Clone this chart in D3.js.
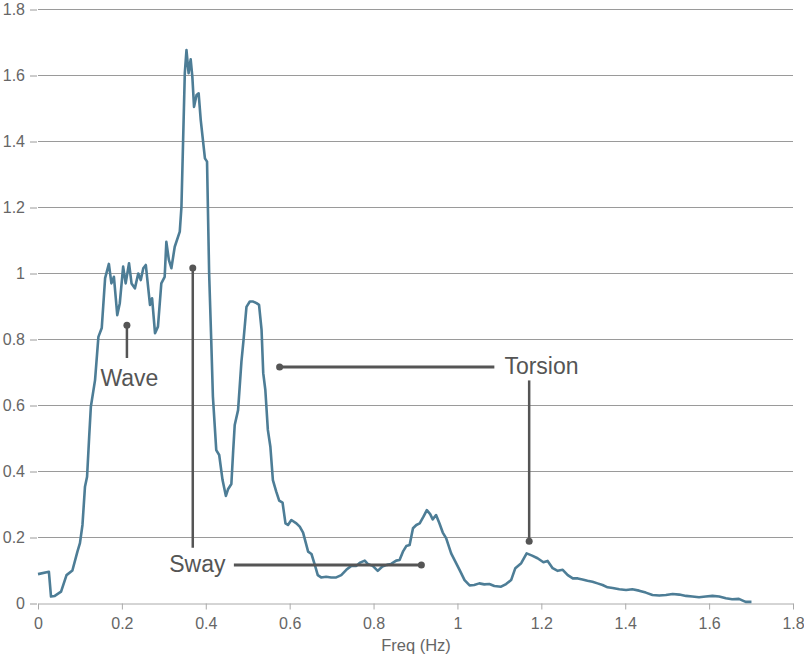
<!DOCTYPE html>
<html>
<head>
<meta charset="utf-8">
<script src="https://cdn.jsdelivr.net/npm/d3@7"></script>
<style>
  body { margin: 0; background: #fff; }
  svg { font-family: "Liberation Sans", Arial, sans-serif; }
  .tick text { fill: #666; font-size: 16px; }
  .x-axis path, .x-axis line { stroke: #aaa; }
</style>
</head>
<body>
<div id="chart"></div>
<script>
// spectrum
var freq = [0.000, 0.026, 0.031, 0.040, 0.055, 0.068, 0.082, 0.094, 0.100, 0.106,
  0.112, 0.117, 0.122, 0.126, 0.136, 0.144, 0.152, 0.160, 0.169, 0.175,
  0.181, 0.189, 0.195, 0.203, 0.209, 0.217, 0.223, 0.231, 0.239, 0.245,
  0.251, 0.257, 0.267, 0.272, 0.279, 0.286, 0.294, 0.302, 0.306, 0.312,
  0.318, 0.326, 0.338, 0.342, 0.346, 0.350, 0.354, 0.359, 0.364, 0.368,
  0.372, 0.378, 0.383, 0.388, 0.398, 0.403, 0.408, 0.413, 0.417, 0.425,
  0.432, 0.440, 0.448, 0.453, 0.461, 0.465, 0.469, 0.477, 0.485, 0.490,
  0.497, 0.505, 0.513, 0.521, 0.527, 0.533, 0.537, 0.542, 0.548, 0.554,
  0.560, 0.568, 0.575, 0.583, 0.590, 0.596, 0.604, 0.616, 0.624, 0.632,
  0.644, 0.652, 0.660, 0.667, 0.675, 0.687, 0.699, 0.711, 0.723, 0.735,
  0.747, 0.759, 0.768, 0.779, 0.786, 0.798, 0.810, 0.821, 0.832, 0.842,
  0.854, 0.862, 0.870, 0.878, 0.886, 0.894, 0.902, 0.910, 0.919, 0.927,
  0.935, 0.941, 0.949, 0.957, 0.965, 0.973, 0.985, 0.995, 1.005, 1.017,
  1.029, 1.040, 1.052, 1.064, 1.076, 1.088, 1.104, 1.116, 1.128, 1.138,
  1.152, 1.165, 1.178, 1.191, 1.205, 1.215, 1.227, 1.239, 1.251, 1.263,
  1.275, 1.287, 1.298, 1.310, 1.322, 1.334, 1.346, 1.358, 1.370, 1.386,
  1.402, 1.417, 1.433, 1.449, 1.465, 1.481, 1.497, 1.513, 1.529, 1.545,
  1.560, 1.576, 1.592, 1.608, 1.624, 1.640, 1.655, 1.671, 1.687, 1.701];

var amp = [0.089, 0.096, 0.021, 0.023, 0.036, 0.086, 0.100, 0.157, 0.183, 0.238,
  0.354, 0.384, 0.505, 0.596, 0.677, 0.808, 0.835, 0.986, 1.029, 0.970,
  0.990, 0.874, 0.910, 1.021, 0.970, 1.031, 0.970, 0.955, 1.000, 0.980,
  1.016, 1.026, 0.905, 0.925, 0.819, 0.839, 0.970, 0.990, 1.096, 1.041,
  1.016, 1.081, 1.127, 1.202, 1.405, 1.607, 1.677, 1.607, 1.649, 1.596,
  1.505, 1.541, 1.546, 1.465, 1.349, 1.339, 1.001, 0.798, 0.627, 0.465,
  0.450, 0.374, 0.326, 0.346, 0.362, 0.455, 0.541, 0.586, 0.733, 0.798,
  0.899, 0.915, 0.915, 0.910, 0.905, 0.829, 0.698, 0.647, 0.526, 0.475,
  0.374, 0.339, 0.312, 0.306, 0.243, 0.238, 0.253, 0.243, 0.233, 0.215,
  0.157, 0.150, 0.117, 0.086, 0.079, 0.081, 0.079, 0.079, 0.086, 0.102,
  0.114, 0.114, 0.124, 0.130, 0.120, 0.114, 0.099, 0.112, 0.117, 0.120,
  0.130, 0.132, 0.157, 0.174, 0.177, 0.228, 0.238, 0.243, 0.263, 0.283,
  0.271, 0.255, 0.268, 0.243, 0.215, 0.198, 0.152, 0.127, 0.102, 0.071,
  0.055, 0.056, 0.061, 0.058, 0.059, 0.053, 0.051, 0.059, 0.071, 0.107,
  0.122, 0.152, 0.145, 0.137, 0.125, 0.129, 0.107, 0.099, 0.102, 0.086,
  0.076, 0.076, 0.073, 0.069, 0.066, 0.061, 0.056, 0.049, 0.047, 0.043,
  0.041, 0.043, 0.039, 0.033, 0.026, 0.024, 0.026, 0.029, 0.027, 0.023,
  0.021, 0.019, 0.021, 0.023, 0.021, 0.016, 0.013, 0.014, 0.005, 0.005];

var x_ticks = [0, 0.2, 0.4, 0.6, 0.8, 1, 1.2, 1.4, 1.6, 1.8];
var y_ticks = [0, 0.2, 0.4, 0.6, 0.8, 1, 1.2, 1.4, 1.6, 1.8];

// annotations: label, where the label sits, the points it marks
var note_labels = ['Wave', 'Sway', 'Torsion'];
var note_text_at = [[0.218, 0.682], [0.313, 0.12], [1.112, 0.72]];
var note_points = [[[0.212, 0.843]], [[0.369, 1.017], [0.914, 0.117]], [[0.576, 0.717], [1.171, 0.189]]];

var chart_width = 804;
var chart_height = 657;

var svg = d3.select('#chart')
  .append('svg')
  .attr('width', chart_width)
  .attr('height', chart_height);

var x_scale = d3.scaleLinear().domain([0, 1.8]).range([38, 793]);
var y_scale = d3.scaleLinear().domain([0, 1.8]).range([603.5, 9.5]);

// grid lines
svg.append('g')
  .selectAll('line')
  .data(y_ticks.slice(1))
  .enter()
  .append('line')
  .attr('x1', 38)
  .attr('x2', 793)
  .attr('y1', function(d) { return y_scale(d); })
  .attr('y2', function(d) { return y_scale(d); })
  .attr('stroke', '#9a9a9a')
  .attr('stroke-width', 1);

// y axis
var y_axis = d3.axisLeft(y_scale)
  .tickValues(y_ticks)
  .tickSize(7)
  .tickPadding(5)
  .tickFormat(function(d) { return String(d); });
svg.append('g')
  .attr('class', 'y-axis')
  .attr('transform', 'translate(37,0)')
  .call(y_axis)
  .call(function(g) {
    g.select('.domain').remove();
    g.selectAll('.tick line').attr('stroke', '#9a9a9a');
  });

// x axis
var x_axis = d3.axisBottom(x_scale)
  .tickValues(x_ticks)
  .tickSize(6)
  .tickSizeOuter(0)
  .tickPadding(8)
  .tickFormat(function(d) { return String(d); });
svg.append('g')
  .attr('class', 'x-axis')
  .attr('transform', 'translate(0,603.5)')
  .call(x_axis);

svg.append('text')
  .attr('x', 416)
  .attr('y', 651)
  .attr('text-anchor', 'middle')
  .attr('fill', '#666')
  .attr('font-size', 16.5)
  .text('Freq (Hz)');

// spectrum line
var line = d3.line()
  .x(function(d, i) { return x_scale(freq[i]); })
  .y(function(d) { return y_scale(d); });

svg.append('path')
  .datum(amp)
  .attr('d', line)
  .attr('fill', 'none')
  .attr('stroke', '#4d7d96')
  .attr('stroke-width', 2.6)
  .attr('stroke-linejoin', 'round');

// annotations
var ann = svg.append('g')
  .attr('fill', '#555')
  .attr('stroke', '#555');

// Wave: short stem under the dot
ann.append('line')
  .attr('x1', x_scale(note_points[0][0][0])).attr('y1', y_scale(note_points[0][0][1]))
  .attr('x2', x_scale(note_points[0][0][0])).attr('y2', y_scale(0.744))
  .attr('stroke-width', 2.5);

// Sway: vertical stem, then a line out to the second peak
ann.append('line')
  .attr('x1', x_scale(note_points[1][0][0])).attr('y1', y_scale(note_points[1][0][1]))
  .attr('x2', x_scale(note_points[1][0][0])).attr('y2', y_scale(0.169))
  .attr('stroke-width', 2.5);
ann.append('line')
  .attr('x1', x_scale(0.467)).attr('y1', y_scale(note_points[1][1][1]))
  .attr('x2', x_scale(note_points[1][1][0])).attr('y2', y_scale(note_points[1][1][1]))
  .attr('stroke-width', 3);

// Torsion: line back to first peak, stem down to second
ann.append('line')
  .attr('x1', x_scale(note_points[2][0][0])).attr('y1', y_scale(note_points[2][0][1]))
  .attr('x2', x_scale(1.088)).attr('y2', y_scale(note_points[2][0][1]))
  .attr('stroke-width', 3);
ann.append('line')
  .attr('x1', x_scale(note_points[2][1][0])).attr('y1', y_scale(0.676))
  .attr('x2', x_scale(note_points[2][1][0])).attr('y2', y_scale(note_points[2][1][1]))
  .attr('stroke-width', 2.5);

var dots = [].concat.apply([], note_points);
ann.selectAll('circle')
  .data(dots)
  .enter()
  .append('circle')
  .attr('cx', function(d) { return x_scale(d[0]); })
  .attr('cy', function(d) { return y_scale(d[1]); })
  .attr('r', 3.5)
  .attr('stroke', 'none');

ann.selectAll('text')
  .data(note_labels)
  .enter()
  .append('text')
  .attr('x', function(d, i) { return x_scale(note_text_at[i][0]); })
  .attr('y', function(d, i) { return y_scale(note_text_at[i][1]); })
  .attr('text-anchor', function(d, i) { return i === 0 ? 'middle' : 'start'; })
  .attr('dominant-baseline', 'central')
  .attr('stroke', 'none')
  .attr('font-size', 23)
  .text(function(d) { return d; });
</script>
</body>
</html>
